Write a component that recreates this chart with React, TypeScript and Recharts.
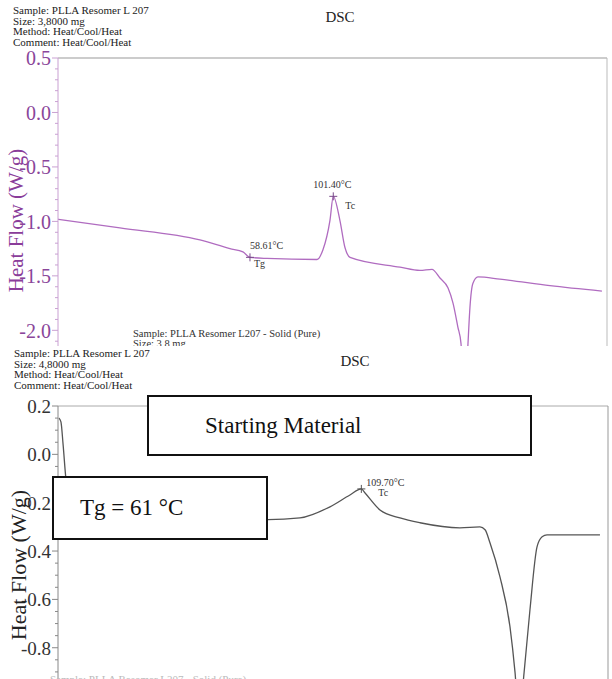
import React from "react";
import { LineChart, Line, XAxis, YAxis, ReferenceLine, ReferenceDot } from "recharts";

// top run (Solid / Pure), temperature in °C and heat flow in W/g
const topTemp = [-40, -8.2, 32.9, 48.3, 55.0, 58.6, 67.3, 93.0, 96.1, 99.7, 101.4, 104.8, 107.4, 110.0, 135.7, 145.9, 152.1, 156.2, 160.3, 162.9, 165.4, 167.0, 168.8, 170.6, 171.6, 173.1, 175.7, 187.0, 212.7, 239.4];
const topFlow = [-0.98, -1.06, -1.17, -1.25, -1.28, -1.33, -1.34, -1.35, -1.26, -0.99, -0.77, -0.99, -1.24, -1.33, -1.42, -1.45, -1.44, -1.52, -1.61, -1.75, -1.97, -2.12, -2.8, -2.12, -1.79, -1.57, -1.51, -1.53, -1.59, -1.64];

// bottom run (Starting Material)
const botTemp = [-44.5, -43.5, -42.4, -40.9, -37.9, -23.6, 27.4, 62.1, 78.4, 93.7, 103.9, 109.7, 111.6, 119.2, 129.4, 139.6, 160.0, 170.2, 172.8, 175.3, 180.4, 185.5, 188.1, 190.1, 192.7, 195.7, 199.3, 201.9, 204.4, 231.4];
const botFlow = [0.15, 0.134, 0.04, -0.106, -0.21, -0.25, -0.27, -0.27, -0.263, -0.217, -0.168, -0.143, -0.16, -0.23, -0.263, -0.283, -0.304, -0.3, -0.312, -0.366, -0.507, -0.713, -0.903, -1.1, -0.903, -0.643, -0.383, -0.341, -0.333, -0.333];

const topMajor = [0.5, 0, -0.5, -1, -1.5, -2];
const topTicks = [0.5, 0.4, 0.3, 0.2, 0.1, 0, -0.1, -0.2, -0.3, -0.4, -0.5, -0.6, -0.7, -0.8, -0.9, -1, -1.1, -1.2, -1.3, -1.4, -1.5, -1.6, -1.7, -1.8, -1.9, -2, -2.1, -2.2, -2.3];
const botMajor = [0.2, 0, -0.2, -0.4, -0.6, -0.8];
const botTicks = [0.2, 0.15, 0.1, 0.05, 0, -0.05, -0.1, -0.15, -0.2, -0.25, -0.3, -0.35, -0.4, -0.45, -0.5, -0.55, -0.6, -0.65, -0.7, -0.75, -0.8, -0.85, -0.9, -0.95];

const topInfo = ["Sample: PLLA Resomer L 207", "Size: 3,8000 mg", "Method: Heat/Cool/Heat", "Comment: Heat/Cool/Heat"];
const botInfo = ["Sample: PLLA Resomer L 207", "Size: 4,8000 mg", "Method: Heat/Cool/Heat", "Comment: Heat/Cool/Heat"];

const SERIF = "'Liberation Serif', 'DejaVu Serif', serif";
const PURPLE = "#b06cc0";

const topRows = topTemp.map((t, i) => ({ t, v: topFlow[i] }));
const botRows = botTemp.map((t, i) => ({ t, v: botFlow[i] }));

function makeTick(majors: number[], color: string, fontSize: number, lineColor: string) {
  return (props: any) => {
    const { x, y, payload } = props;
    const isMajor = majors.some((m) => Math.abs(m - payload.value) < 1e-6);
    const len = isMajor ? 6 : 3;
    return (
      <g>
        <line x1={x - len} x2={x} y1={y} y2={y} stroke={lineColor} strokeWidth={1} />
        {isMajor && (
          <text x={x - len - 1} y={y} dy="0.36em" textAnchor="end" fill={color} fontSize={fontSize} fontFamily={SERIF}>
            {payload.value.toFixed(1)}
          </text>
        )}
      </g>
    );
  };
}

function marker(label: string, sub: string, color: string, lx: number, ly: number, sx: number, sy: number) {
  return (props: any) => {
    const { cx, cy } = props;
    return (
      <g fontFamily={SERIF} fontSize={10} fill="#333">
        <line x1={cx - 4} x2={cx + 4} y1={cy} y2={cy} stroke={color} strokeWidth={1} />
        <line x1={cx} x2={cx} y1={cy - 4} y2={cy + 4} stroke={color} strokeWidth={1} />
        <text x={cx + lx} y={cy + ly}>{label}</text>
        <text x={cx + sx} y={cy + sy}>{sub}</text>
      </g>
    );
  };
}

function Info({ lines, top, left }: { lines: string[]; top: number; left: number }) {
  return (
    <div style={{ position: "absolute", top, left, fontSize: 11, lineHeight: "10.7px", color: "#222", fontFamily: SERIF, whiteSpace: "nowrap" }}>
      {lines.map((l) => (
        <div key={l}>{l}</div>
      ))}
    </div>
  );
}

function AxisTitle({ cx, cy, size, color }: { cx: number; cy: number; size: number; color: string }) {
  return (
    <div
      style={{
        position: "absolute",
        left: cx - 100,
        top: cy - size / 2,
        width: 200,
        height: size,
        lineHeight: `${size}px`,
        textAlign: "center",
        fontSize: size,
        color,
        fontFamily: SERIF,
        transform: "rotate(-90deg)",
        whiteSpace: "nowrap",
      }}
    >
      Heat Flow (W/g)
    </div>
  );
}

function Box({ left, top, width, height, text, textLeft }: { left: number; top: number; width: number; height: number; text: string; textLeft: number }) {
  return (
    <div
      style={{
        position: "absolute",
        left,
        top,
        width,
        height,
        boxSizing: "border-box",
        border: "2.5px solid #111",
        background: "#fff",
        fontFamily: SERIF,
        fontSize: 23,
        color: "#111",
        display: "flex",
        alignItems: "center",
        paddingLeft: textLeft,
        whiteSpace: "nowrap",
      }}
    >
      {text}
    </div>
  );
}

export default function App() {
  return (
    <div style={{ position: "absolute", left: 0, top: 0, width: 612, height: 679, overflow: "hidden", background: "#fff", fontFamily: SERIF }}>
      {/* upper DSC plot */}
      <div style={{ position: "absolute", left: 0, top: 0, width: 612, height: 346, overflow: "hidden" }}>
        <Info lines={topInfo} top={5} left={13} />
        <div style={{ position: "absolute", left: 310, top: 9, width: 60, textAlign: "center", fontSize: 15, color: "#222" }}>DSC</div>
        <div style={{ position: "absolute", left: 0, top: 0 }}>
          <LineChart width={612} height={363} data={topRows} margin={{ top: 58, right: 5, bottom: 0, left: 0 }}>
            <XAxis type="number" dataKey="t" domain={[-40, 242]} hide allowDataOverflow />
            <YAxis
              type="number"
              domain={[-2.3, 0.5]}
              ticks={topTicks}
              interval={0}
              width={58}
              tickSize={0}
              tickMargin={0}
              tick={makeTick(topMajor, "#8a469a", 20, "#c9a0d2")}
              axisLine={{ stroke: "#c9a0d2" }}
              allowDataOverflow
            />
            <ReferenceLine y={0.5} stroke="#999" />
            <ReferenceLine x={242} stroke="#bbb" />
            <Line type="monotone" dataKey="v" stroke={PURPLE} strokeWidth={1.3} dot={false} isAnimationActive={false} />
            <ReferenceDot x={58.61} y={-1.33} shape={marker("58.61°C", "Tg", "#7a4a8a", 0, -8, 4, 10)} />
            <ReferenceDot x={101.4} y={-0.77} shape={marker("101.40°C", "Tc", "#7a4a8a", -20, -8, 12, 13)} />
          </LineChart>
        </div>
        <div style={{ position: "absolute", left: 133, top: 328.5, fontSize: 10.5, lineHeight: "10.5px", color: "#333", whiteSpace: "nowrap" }}>
          <div>Sample: PLLA Resomer L207 - Solid (Pure)</div>
          <div>Size: 3,8 mg</div>
        </div>
        <AxisTitle cx={16} cy={220} size={21} color="#8a3d9a" />
      </div>

      {/* lower DSC plot */}
      <div style={{ position: "absolute", left: 0, top: 346, width: 612, height: 333, overflow: "hidden" }}>
        <Info lines={botInfo} top={2} left={14} />
        <div style={{ position: "absolute", left: 325, top: 7, width: 60, textAlign: "center", fontSize: 15, color: "#222" }}>DSC</div>
        <div style={{ position: "absolute", left: 0, top: 0 }}>
          <LineChart width={612} height={338} data={botRows} margin={{ top: 60, right: 4, bottom: 0, left: 0 }}>
            <XAxis type="number" dataKey="t" domain={[-45, 235.5]} hide allowDataOverflow />
            <YAxis
              type="number"
              domain={[-0.95, 0.2]}
              ticks={botTicks}
              interval={0}
              width={58}
              tickSize={0}
              tickMargin={0}
              tick={makeTick(botMajor, "#333", 19, "#888")}
              axisLine={{ stroke: "#888" }}
              allowDataOverflow
            />
            <ReferenceLine y={0.2} stroke="#aaa" />
            <ReferenceLine x={235.5} stroke="#999" />
            <Line type="monotone" dataKey="v" stroke="#555" strokeWidth={1.3} dot={false} isAnimationActive={false} />
            <ReferenceDot x={109.7} y={-0.143} shape={marker("109.70°C", "Tc", "#555", 5, -3, 17, 7)} />
          </LineChart>
        </div>
        <div style={{ position: "absolute", left: 50, top: 327, fontSize: 11, color: "#bbb", whiteSpace: "nowrap" }}>
          Sample: PLLA Resomer L207 - Solid (Pure)
        </div>
        <AxisTitle cx={19} cy={219} size={22} color="#222" />
      </div>

      <Box left={147} top={395} width={385} height={61} text="Starting Material" textLeft={56} />
      <Box left={52} top={476} width={216} height={64} text="Tg = 61 °C" textLeft={26} />
    </div>
  );
}
